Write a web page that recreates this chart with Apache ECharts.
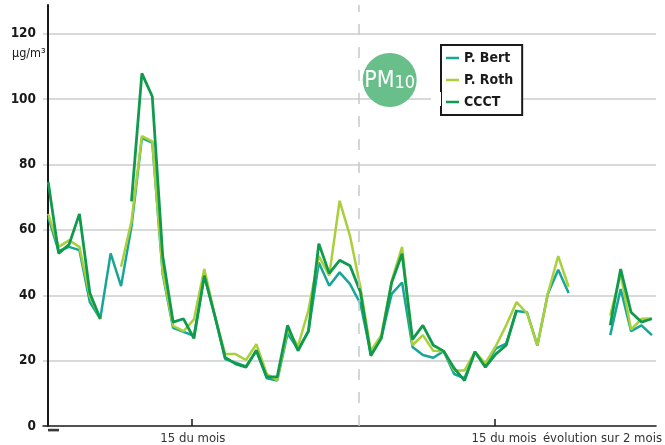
<!DOCTYPE html>
<html><head><meta charset="utf-8">
<script src="https://cdn.jsdelivr.net/npm/echarts@6/dist/echarts.min.js"></script>
<style>html,body{margin:0;padding:0;background:#fff}#c{width:665px;height:445px}</style>
</head><body><div id="c"></div>
<script>
// Daily PM10 values (µg/m³), index = day position; null = no measurement
const bert = [63.9,53.5,54.8,53.8,37.9,32.8,52.8,42.8,61,88.1,86.7,46.5,30,28.8,27.6,46,33.8,20.5,19.4,18.2,23,14.6,13.9,28.3,23.5,28.8,50,42.9,47,43.4,37.4,22,27,40.4,43.9,24.2,21.7,20.9,22.9,15.9,14.6,22.7,18.4,23.7,25.2,35.2,34.8,24.6,40.4,47.8,40.7,null,null,null,27.8,41.9,29,30.8,27.8];
const roth = [64.9,54.8,56.8,54.8,39.7,32.8,null,48.7,62.6,88.7,87.1,47,30.6,29,32.6,48,33.8,22,22,20.2,25,15.9,14,29.5,24.4,35.4,52,46,68.9,58.1,42.4,23,27.8,44.4,54.8,24.7,27.8,23,22.9,17,17,22.7,19.2,24.4,30.8,37.9,34.5,24.6,40.4,52,42.6,null,null,null,33.8,46.5,29.5,32.8,32.9];
const ccct = [74.7,52.8,55.5,64.9,40.7,32.8,null,null,68.7,107.9,100.8,52,31.8,32.8,26.8,46,33.8,21,19,18,23.2,15,15,30.8,23,29.1,55.8,46.7,50.7,49,40.9,21.5,26.8,43.9,52.7,26.5,30.8,24.7,22.9,17.7,13.9,22.7,18,22,24.7,35.5,null,null,null,null,null,null,null,null,30.8,48,34.8,31.8,32.8];
const seriesNames = ['P. Bert','P. Roth','CCCT'];
const yTickLabels = [0,20,40,60,80,100,120];
const xTickPos = [13.75, 42.87];
const xLabelPos = [13.9, 43.8, 53.25];
const xLabelText = ['15 du mois','15 du mois','évolution sur 2 mois'];
const monthBreak = 29.8;

const FONT = "'Liberation Sans Narrow','DejaVu Sans Condensed','Roboto Condensed',sans-serif";
const colors = ['#17a596','#a9cf3b','#0f9a4c'];
const toPts = arr => arr.map((v,i)=>[i,v]);

const chart = echarts.init(document.getElementById('c'), null, {renderer:'canvas'});
chart.setOption({
  animation:false,
  color: colors,
  grid:{left:43,right:5,top:5,bottom:15,containLabel:false},
  xAxis:{
    type:'value', min:-0.5, max:58.4,
    axisLine:{show:true,onZero:false,lineStyle:{color:'#1a1a1a',width:1.5}},
    axisTick:{show:true,inside:true,length:7,customValues:xTickPos,lineStyle:{color:'#1a1a1a',width:1.5}},
    axisLabel:{show:true,customValues:xLabelPos,margin:6,fontFamily:FONT,fontSize:13,color:'#333',
      formatter:v=>{const k=xLabelPos.findIndex(p=>Math.abs(p-v)<0.01);return k>=0?xLabelText[k]:'';}},
    splitLine:{show:false}
  },
  yAxis:{
    type:'value', min:0, max:128.8, interval:20,
    axisLine:{show:true,lineStyle:{color:'#1a1a1a',width:2}},
    axisTick:{show:false},
    axisLabel:{margin:7,fontFamily:FONT,fontSize:13.5,fontWeight:'bold',color:'#1a1a1a',
      formatter:v=>yTickLabels.includes(v)?String(v):''},
    splitLine:{show:true,showMinLine:false,showMaxLine:false,lineStyle:{color:'#cccccc',width:1.5}}
  },
  legend:{
    data:seriesNames, orient:'vertical', left:441, top:45,
    borderColor:'#1a1a1a', borderWidth:2, backgroundColor:'#fff',
    padding:[6,9,6,5], itemGap:8, itemWidth:13, itemHeight:2.5, icon:'rect',
    textStyle:{fontFamily:FONT,fontSize:14,fontWeight:'bold',color:'#1a1a1a',padding:[0,0,0,0]}
  },
  graphic:[
    {type:'rect',z:10,shape:{x:431,y:92,width:10,height:14},style:{fill:'#fff'}},
    {type:'rect',z:10,shape:{x:48,y:428.8,width:11,height:2.6},style:{fill:'#3a3a3a'}},
    {type:'circle',z:10,shape:{cx:389.7,cy:80,r:27},style:{fill:'#68bf8a'}},
    {type:'text',z:11,x:389.7,y:81,style:{text:'{a|PM}{b|10}',align:'center',verticalAlign:'middle',
      rich:{a:{fontFamily:FONT,fontSize:23,fill:'#fff'},b:{fontFamily:FONT,fontSize:18,fill:'#fff',padding:[4,0,0,0]}}}},
    {type:'text',z:11,left:12,top:47,style:{text:'µg/m³',fontFamily:FONT,fontSize:12.5,fill:'#1a1a1a'}}
  ],
  series:[
    {name:seriesNames[0],type:'line',data:toPts(bert),symbol:'none',connectNulls:false,z:2,
      lineStyle:{width:2.5,color:colors[0]},
      markLine:{silent:true,symbol:'none',label:{show:false},
        lineStyle:{color:'#c8c8c8',type:[11,12],width:1.5},data:[{xAxis:monthBreak}]}},
    {name:seriesNames[1],type:'line',data:toPts(roth),symbol:'none',connectNulls:false,z:3,
      lineStyle:{width:2.5,color:colors[1]}},
    {name:seriesNames[2],type:'line',data:toPts(ccct),symbol:'none',connectNulls:false,z:4,
      lineStyle:{width:2.8,color:colors[2]}}
  ]
});
</script></body></html>
